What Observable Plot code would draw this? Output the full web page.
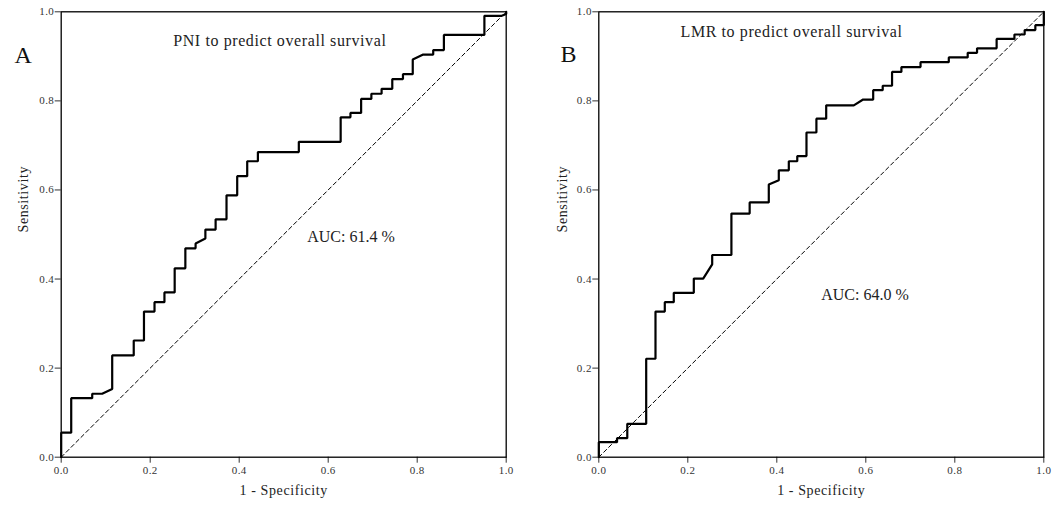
<!DOCTYPE html>
<html>
<head>
<meta charset="utf-8">
<script src="https://cdn.jsdelivr.net/npm/d3@7"></script>
<script src="https://cdn.jsdelivr.net/npm/@observablehq/plot@0.6"></script>
<style>
  html, body { margin: 0; padding: 0; background: #fff; }
  #row { display: flex; width: 1059px; height: 506px; }
  svg { font-family: "Liberation Serif", "DejaVu Serif", serif; }
  svg g[aria-label="text"] text { letter-spacing: 0.6px; }
  svg g[aria-label="x-axis tick label"] text, svg g[aria-label="y-axis tick label"] text { letter-spacing: 0.4px; }
</style>
</head>
<body>
<div id="row"></div>
<script>
// Panel A: PNI ROC curve points (1 - specificity, sensitivity)
const aX = [0,0,0.0225,0.0225,0.0697,0.0697,0.092,0.1146,0.1146,0.163,0.163,0.186,0.186,0.2097,0.2097,0.232,0.232,0.255,0.255,0.279,0.279,0.302,0.302,0.324,0.324,0.347,0.347,0.3715,0.3715,0.3955,0.3955,0.418,0.418,0.442,0.442,0.534,0.534,0.628,0.628,0.650,0.650,0.674,0.674,0.697,0.697,0.720,0.720,0.744,0.744,0.768,0.768,0.790,0.790,0.8135,0.836,0.836,0.860,0.860,0.951,0.951,0.99,1,1];
const aY = [0,0.055,0.055,0.1326,0.1326,0.1425,0.1425,0.153,0.2285,0.2285,0.262,0.262,0.327,0.327,0.348,0.348,0.370,0.370,0.424,0.424,0.469,0.469,0.48,0.491,0.511,0.511,0.534,0.534,0.588,0.588,0.631,0.631,0.6645,0.6645,0.685,0.685,0.708,0.708,0.763,0.763,0.773,0.773,0.8045,0.8045,0.816,0.816,0.827,0.827,0.849,0.849,0.860,0.860,0.893,0.904,0.904,0.914,0.914,0.948,0.948,0.991,0.991,0.995,1];

// Panel B: LMR ROC curve points
const bX = [0,0,0.041,0.041,0.064,0.064,0.1065,0.1065,0.1274,0.1274,0.1483,0.1483,0.1685,0.1685,0.2135,0.2135,0.2346,0.2548,0.2548,0.298,0.298,0.339,0.339,0.382,0.382,0.4045,0.4045,0.427,0.427,0.446,0.446,0.4667,0.4667,0.489,0.489,0.511,0.511,0.573,0.594,0.6166,0.6166,0.638,0.638,0.659,0.659,0.680,0.680,0.723,0.723,0.7865,0.7865,0.829,0.829,0.850,0.850,0.894,0.894,0.934,0.934,0.957,0.957,0.981,0.981,1,1];
const bY = [0,0.0337,0.0337,0.0427,0.0427,0.075,0.075,0.221,0.221,0.327,0.327,0.348,0.348,0.369,0.369,0.401,0.401,0.433,0.454,0.454,0.547,0.547,0.572,0.572,0.612,0.622,0.644,0.644,0.6645,0.6645,0.676,0.676,0.729,0.729,0.760,0.760,0.790,0.790,0.803,0.803,0.824,0.824,0.834,0.834,0.865,0.865,0.876,0.876,0.887,0.887,0.8975,0.8975,0.908,0.908,0.918,0.918,0.939,0.939,0.949,0.949,0.959,0.959,0.970,0.970,1];

const diag = [0, 1];
const ticks = [0, 0.2, 0.4, 0.6, 0.8, 1.0];
const xLabel = "1 - Specificity";
const yLabel = "Sensitivity";

const panels = [
  {xs: aX, ys: aY, letter: "A", title: "PNI to predict overall survival", auc: "AUC: 61.4 %",
   width: 529, marginLeft: 60.7, marginRight: 23.3, yLabDx: -38,
   letterPos: [-0.105, 0.9016], titlePos: [0.2517, 0.9353], aucPos: [0.5528, 0.4944]},
  {xs: bX, ys: bY, letter: "B", title: "LMR to predict overall survival", auc: "AUC: 64.0 %",
   width: 530, marginLeft: 69.3, marginRight: 15.7, yLabDx: -36,
   letterPos: [-0.086, 0.905], titlePos: [0.1836, 0.954], aucPos: [0.4998, 0.3645]}
];

const row = document.getElementById("row");
for (const p of panels) {
  const pts = p.xs.map((x, i) => ({x, y: p.ys[i]}));
  const chart = Plot.plot({
    width: p.width,
    height: 506,
    marginLeft: p.marginLeft,
    marginRight: p.marginRight,
    marginTop: 11.3,
    marginBottom: 49.3,
    x: {domain: [0, 1]},
    y: {domain: [0, 1]},
    marks: [
      Plot.axisX({ticks, tickFormat: d3.format(".1f"), tickSize: 6, tickPadding: 3, fontSize: 11, color: "#333", label: null}),
      Plot.axisY({ticks, tickFormat: d3.format(".1f"), tickSize: 6, tickPadding: 1, fontSize: 11, color: "#333", label: null}),
      Plot.line(diag.map(d => ({d})), {x: "d", y: "d", stroke: "black", strokeWidth: 1, strokeDasharray: "4,3"}),
      Plot.line(pts, {x: "x", y: "y", stroke: "black", strokeWidth: 2.2, strokeLinejoin: "miter"}),
      Plot.frame({stroke: "black", strokeWidth: 1.3}),
      Plot.text([xLabel], {frameAnchor: "bottom", dy: 38, fontSize: 14, fill: "#222"}),
      Plot.text([yLabel], {frameAnchor: "left", dx: p.yLabDx, dy: -2, rotate: -90, fontSize: 14, fill: "#222"}),
      Plot.text([p.letter], {x: p.letterPos[0], y: p.letterPos[1], textAnchor: "start", fontSize: 24, fill: "#111"}),
      Plot.text([p.title], {x: p.titlePos[0], y: p.titlePos[1], textAnchor: "start", fontSize: 16, fill: "#222"}),
      Plot.text([p.auc], {x: p.aucPos[0], y: p.aucPos[1], textAnchor: "start", fontSize: 16, fill: "#222"})
    ]
  });
  d3.select(chart).selectAll("text")
    .filter(function() { return this.textContent.startsWith("AUC"); })
    .style("letter-spacing", "0px");
  row.appendChild(chart);
}
</script>
</body>
</html>
